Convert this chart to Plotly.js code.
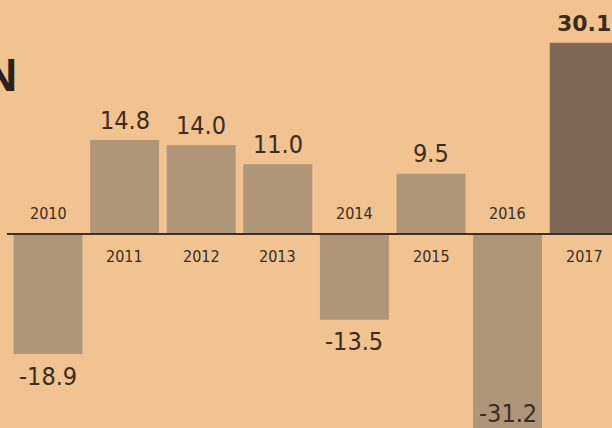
<!DOCTYPE html>
<html>
<head>
<meta charset="utf-8">
<script src="https://cdn.plot.ly/plotly-3.0.1.min.js"></script>
<style>
html,body{margin:0;padding:0;background:#f1c391;}
#chart{width:612px;height:428px;}
</style>
</head>
<body>
<div id="chart"></div>
<script>
const years = ["2010","2011","2012","2013","2014","2015","2016","2017"];
const values = [-18.9, 14.8, 14.0, 11.0, -13.5, 9.5, -31.2, 30.1];
const valueLabels = ["-18.9","14.8","14.0","11.0","-13.5","9.5","-31.2","30.1"];
const highlightYear = "2017";
const titleFragment = "N";

const bg = "#f1c391";
const barColor = "#b09679";
const hiColor = "#7f6855";
const ink = "#3b2c20";
const fontFam = "'Liberation Sans Narrow','DejaVu Sans Condensed',sans-serif";
const boldFam = "'DejaVu Sans',sans-serif";

const xs = years.map((y,i)=>i);
const colors = years.map(y => y === highlightYear ? hiColor : barColor);

const annotations = [];
values.forEach((v,i)=>{
  const isHi = years[i] === highlightYear;
  const clipped = v < -30.5;
  annotations.push({
    x: i, y: clipped ? 15/428 : v, xref:'x', yref: clipped ? 'paper' : 'y',
    text: isHi ? '<b>'+valueLabels[i]+'</b>' : valueLabels[i],
    showarrow:false, xanchor:'center', yanchor:'middle',
    yshift: clipped ? 0 : (v >= 0 ? (isHi ? 19 : 20) : -22),
    font:{family: isHi ? boldFam : fontFam, size: isHi ? 22 : 25, color: ink}
  });
  annotations.push({
    x: i, y: 0, xref:'x', yref:'y', text: years[i], showarrow:false,
    xanchor:'center', yanchor:'middle', yshift: v >= 0 ? -22 : 21,
    font:{family: fontFam, size: 16, color: ink}
  });
});
annotations.push({
  x: 19/612, y: 1-75/428, xref:'paper', yref:'paper', text:'<b>'+titleFragment+'</b>', showarrow:false,
  xanchor:'right', yanchor:'middle',
  font:{family:"'Liberation Sans',sans-serif", size:46, color:'#2a211b'}
});

const trace = {
  type:'bar', x: xs, y: values, width: 0.9,
  marker:{color: colors, line:{width:0}},
  hoverinfo:'skip', cliponaxis:true
};

const layout = {
  width:612, height:428,
  margin:{l:0,r:0,t:0,b:0},
  paper_bgcolor: bg, plot_bgcolor: bg,
  showlegend:false,
  xaxis:{range:[-0.6266, 7.363], visible:false, fixedrange:true},
  yaxis:{range:[-30.55, 36.85], visible:false, fixedrange:true, zeroline:false},
  shapes:[{type:'line', xref:'x', yref:'y', x0:-0.535, x1:7.5, y0:0, y1:0,
           line:{color:'#3e2f24', width:2}, layer:'above'}],
  annotations: annotations
};

Plotly.newPlot('chart',[trace],layout,{staticPlot:true, displayModeBar:false});
</script>
</body>
</html>
